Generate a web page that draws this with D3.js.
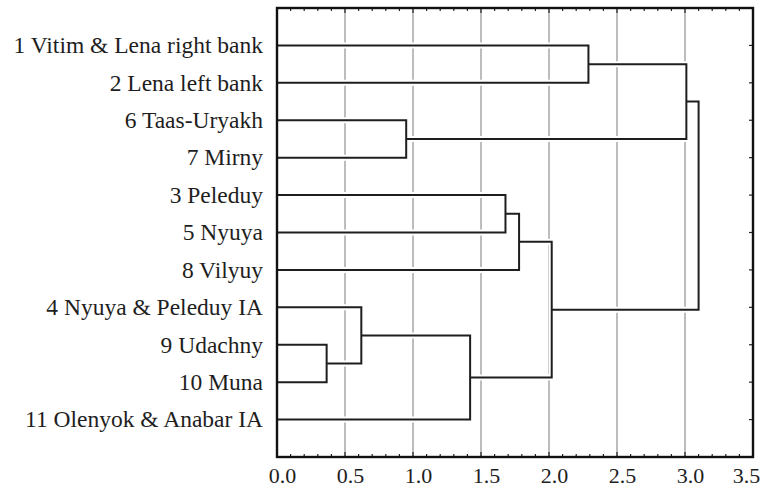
<!DOCTYPE html>
<html>
<head>
<meta charset="utf-8">
<script src="https://cdn.jsdelivr.net/npm/d3@7"></script>
<style>
  body { margin: 0; background: #fff; }
  svg { display: block; }
  text { font-family: "Liberation Serif", "Times New Roman", serif; fill: #1e1e1e; }
</style>
</head>
<body>
<svg width="764" height="489"></svg>
<script>
// leaves, top to bottom as in the tree
var leafLabels = [
  "1 Vitim & Lena right bank",
  "2 Lena left bank",
  "6 Taas-Uryakh",
  "7 Mirny",
  "3 Peleduy",
  "5 Nyuya",
  "8 Vilyuy",
  "4 Nyuya & Peleduy IA",
  "9 Udachny",
  "10 Muna",
  "11 Olenyok & Anabar IA"
];

// linkage: [child a, child b, distance]; new clusters numbered from 11 on
var mergeA = [8, 7, 2, 12, 4, 15, 16, 0, 18, 19];
var mergeB = [9, 11, 3, 10, 5, 6, 14, 1, 13, 17];
var mergeDist = [0.365, 0.62, 0.95, 1.42, 1.68, 1.78, 2.02, 2.29, 3.01, 3.10];

var majorTicks = [0, 0.5, 1.0, 1.5, 2.0, 2.5, 3.0, 3.5];
var gridTicks = [0.5, 1.0, 1.5, 2.0, 2.5, 3.0];

var svg = d3.select("svg");
var plotL = 277, plotR = 753, plotT = 8, plotB = 457;

var x = d3.scaleLinear().domain([0, 3.5]).range([plotL, plotR]);
var y = d3.scalePoint().domain(d3.range(leafLabels.length)).range([plotT, plotB]).padding(1);

// node positions
var nodeY = [], nodeH = [];
leafLabels.forEach(function(d, i) { nodeY[i] = y(i); nodeH[i] = 0; });
mergeDist.forEach(function(h, k) {
  var id = leafLabels.length + k;
  nodeY[id] = (nodeY[mergeA[k]] + nodeY[mergeB[k]]) / 2;
  nodeH[id] = h;
});

// grid
svg.append("g").selectAll("line")
  .data(gridTicks)
  .enter().append("line")
    .attr("x1", function(d) { return x(d); })
    .attr("x2", function(d) { return x(d); })
    .attr("y1", plotT).attr("y2", plotB)
    .attr("stroke", "#adadad")
    .attr("stroke-width", 1.6);

// minor/major ticks top and bottom, pointing inward
var minor = d3.range(0, 36).map(function(i) { return i / 10; });
var ticksG = svg.append("g").attr("stroke", "#222").attr("stroke-width", 1.2);
[plotT, plotB].forEach(function(yy) {
  var dir = yy === plotT ? 1 : -1;
  ticksG.selectAll(null)
    .data(minor)
    .enter().append("line")
      .attr("x1", function(d) { return x(d); })
      .attr("x2", function(d) { return x(d); })
      .attr("y1", yy)
      .attr("y2", function(d) {
        var major = Math.abs(d * 2 - Math.round(d * 2)) < 1e-6;
        return yy + dir * (major ? 5 : 3);
      });
});
// right ticks at leaves
ticksG.selectAll(null)
  .data(leafLabels)
  .enter().append("line")
    .attr("x1", plotR).attr("x2", plotR - 4)
    .attr("y1", function(d, i) { return y(i); })
    .attr("y2", function(d, i) { return y(i); });

// dendrogram
var paths = mergeDist.map(function(h, k) {
  var a = mergeA[k], b = mergeB[k];
  return "M" + x(nodeH[a]) + "," + nodeY[a] +
         "H" + x(h) + "V" + nodeY[b] + "H" + x(nodeH[b]);
});
svg.append("g").selectAll("path")
  .data(paths)
  .enter().append("path")
    .attr("d", function(d) { return d; })
    .attr("fill", "none")
    .attr("stroke", "#fff")
    .attr("stroke-width", 6);
svg.append("g").selectAll("path")
  .data(paths)
  .enter().append("path")
    .attr("d", function(d) { return d; })
    .attr("fill", "none")
    .attr("stroke", "#1e1e1e")
    .attr("stroke-width", 2)
    .attr("stroke-linejoin", "miter");

// frame
svg.append("rect")
  .attr("x", plotL).attr("y", plotT)
  .attr("width", plotR - plotL).attr("height", plotB - plotT)
  .attr("fill", "none")
  .attr("stroke", "#111")
  .attr("stroke-width", 2.4);

// leaf labels
svg.append("g").selectAll("text")
  .data(leafLabels)
  .enter().append("text")
    .attr("x", 263)
    .attr("y", function(d, i) { return y(i); })
    .attr("dy", "0.33em")
    .attr("text-anchor", "end")
    .style("font-size", "23.5px")
    .text(function(d) { return d; });

// x axis labels
var xAxis = svg.append("g")
  .attr("transform", "translate(0," + plotB + ")")
  .call(d3.axisBottom(x).tickValues(majorTicks).tickFormat(d3.format(".1f")).tickSize(0));
xAxis.select(".domain").remove();
xAxis.selectAll("text")
  .attr("x", function(d) { return d === 3.5 ? -7 : 5; })
  .attr("y", 26).attr("dy", 0)
  .style("font-size", "22px")
  .style("font-family", "'Liberation Serif', serif")
  .attr("fill", "#1e1e1e");
</script>
</body>
</html>
